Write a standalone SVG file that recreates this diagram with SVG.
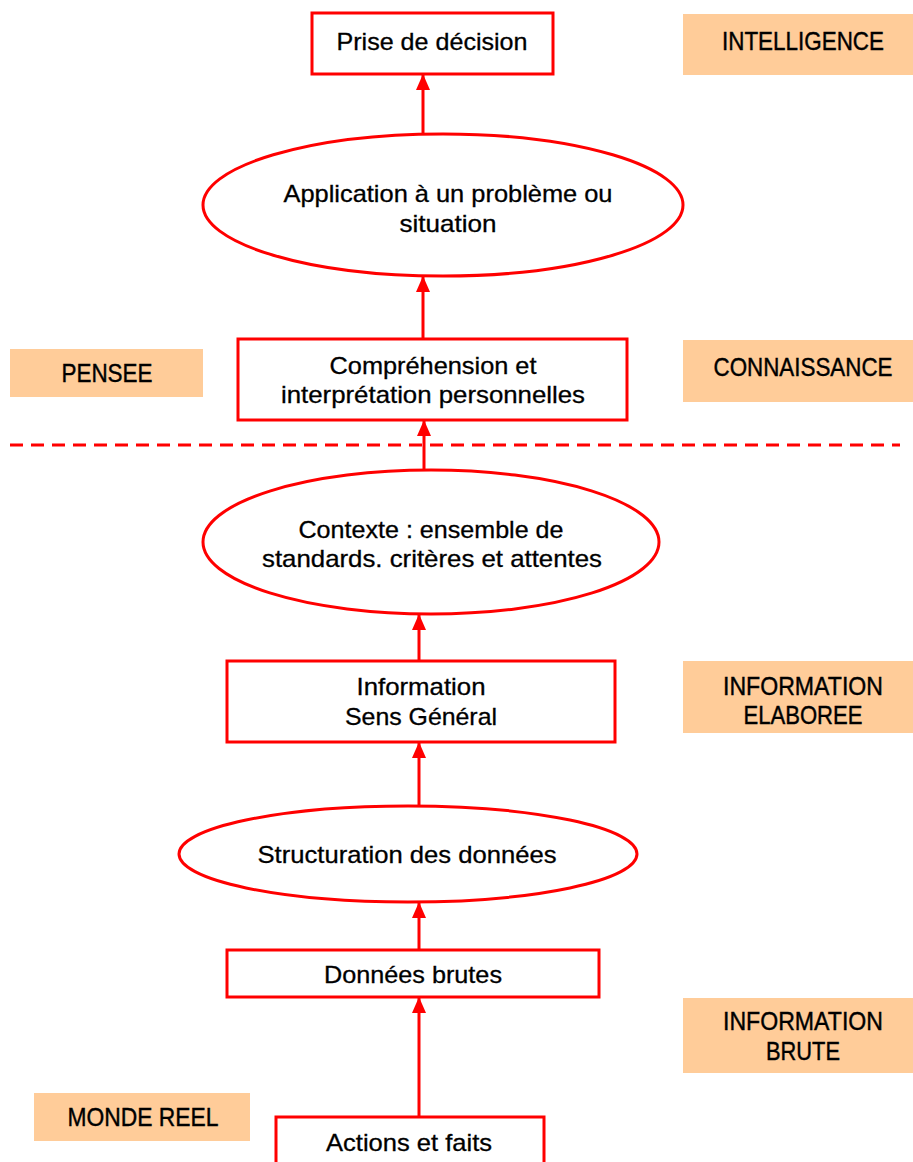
<svg xmlns="http://www.w3.org/2000/svg" width="913" height="1162" viewBox="0 0 913 1162">
  <style>
    .box { fill: #ffffff; stroke: #ff0000; stroke-width: 3; }
    .tag { fill: #ffcc99; stroke: none; }
    .t { font-family: "Liberation Sans", Arial, sans-serif; font-size: 24px; fill: #000000; stroke: #000000; stroke-width: 0.3; text-anchor: middle; dominant-baseline: central; }
    .lab { font-family: "Liberation Sans", Arial, sans-serif; font-size: 25px; fill: #000000; stroke: #000000; stroke-width: 0.4; text-anchor: middle; dominant-baseline: central; }
    .edge { stroke: #ff0000; stroke-width: 3; fill: none; marker-end: url(#arrow); }
    .sep { stroke: #ff0000; stroke-width: 3; stroke-dasharray: 13 8; fill: none; }
  </style>
  <defs>
    <marker id="arrow" markerWidth="14" markerHeight="16" refX="7" refY="1" orient="0" markerUnits="userSpaceOnUse" viewBox="0 0 14 16">
      <path d="M0,16 L7,0 L14,16 Z" fill="#ff0000"/>
    </marker>
  </defs>
  <rect width="913" height="1162" fill="#ffffff"/>

  <!-- connectors: every arrow runs upward to the next stage -->
  <g id="connectors">
    <line class="edge" x1="423" y1="134" x2="423" y2="75"/>
    <line class="edge" x1="423" y1="339" x2="423" y2="277"/>
    <line class="edge" x1="424" y1="482" x2="424" y2="421"/>
    <line class="edge" x1="419" y1="661" x2="419" y2="615"/>
    <line class="edge" x1="419" y1="806" x2="419" y2="743"/>
    <line class="edge" x1="419" y1="950" x2="419" y2="903"/>
    <line class="edge" x1="419" y1="1117" x2="419" y2="998"/>
    <line class="sep" x1="10" y1="445" x2="900" y2="445"/>
  </g>

  <!-- stages -->
  <g id="prise-decision">
    <rect class="box" x="312" y="13" width="241" height="61"/>
    <text class="t" x="432" y="41" textLength="191" lengthAdjust="spacingAndGlyphs">Prise de décision</text>
  </g>
  <g id="application">
    <ellipse class="box" cx="443" cy="205" rx="240" ry="71"/>
    <text class="t" x="448" y="193" textLength="329" lengthAdjust="spacingAndGlyphs">Application à un problème ou</text>
    <text class="t" x="448" y="223" textLength="97" lengthAdjust="spacingAndGlyphs">situation</text>
  </g>
  <g id="comprehension">
    <rect class="box" x="238" y="339" width="389" height="81"/>
    <text class="t" x="433" y="365" textLength="207" lengthAdjust="spacingAndGlyphs">Compréhension et</text>
    <text class="t" x="433" y="394" textLength="304" lengthAdjust="spacingAndGlyphs">interprétation personnelles</text>
  </g>
  <g id="contexte">
    <ellipse class="box" cx="431" cy="542" rx="228" ry="72"/>
    <text class="t" x="431" y="529" textLength="265" lengthAdjust="spacingAndGlyphs">Contexte : ensemble de</text>
    <text class="t" x="432" y="558" textLength="340" lengthAdjust="spacingAndGlyphs">standards. critères et attentes</text>
  </g>
  <g id="information">
    <rect class="box" x="227" y="661" width="388" height="81"/>
    <text class="t" x="421" y="686" textLength="129" lengthAdjust="spacingAndGlyphs">Information</text>
    <text class="t" x="421" y="716" textLength="152" lengthAdjust="spacingAndGlyphs">Sens Général</text>
  </g>
  <g id="structuration">
    <ellipse class="box" cx="408" cy="854" rx="229" ry="48"/>
    <text class="t" x="407" y="854" textLength="299" lengthAdjust="spacingAndGlyphs">Structuration des données</text>
  </g>
  <g id="donnees-brutes">
    <rect class="box" x="227" y="950" width="372" height="47"/>
    <text class="t" x="413" y="974" textLength="178" lengthAdjust="spacingAndGlyphs">Données brutes</text>
  </g>
  <g id="actions-faits">
    <rect class="box" x="276" y="1117" width="268" height="60"/>
    <text class="t" x="409" y="1142" textLength="166" lengthAdjust="spacingAndGlyphs">Actions et faits</text>
  </g>

  <!-- level labels -->
  <g id="tag-intelligence">
    <rect class="tag" x="683" y="14" width="230" height="61"/>
    <text class="lab" x="803" y="41" textLength="162" lengthAdjust="spacingAndGlyphs">INTELLIGENCE</text>
  </g>
  <g id="tag-pensee">
    <rect class="tag" x="10" y="349" width="193" height="48"/>
    <text class="lab" x="107" y="373" textLength="91" lengthAdjust="spacingAndGlyphs">PENSEE</text>
  </g>
  <g id="tag-connaissance">
    <rect class="tag" x="683" y="340" width="230" height="62"/>
    <text class="lab" x="803" y="367" textLength="179" lengthAdjust="spacingAndGlyphs">CONNAISSANCE</text>
  </g>
  <g id="tag-info-elaboree">
    <rect class="tag" x="683" y="661" width="230" height="72"/>
    <text class="lab" x="803" y="686" textLength="160" lengthAdjust="spacingAndGlyphs">INFORMATION</text>
    <text class="lab" x="803" y="715" textLength="119" lengthAdjust="spacingAndGlyphs">ELABOREE</text>
  </g>
  <g id="tag-info-brute">
    <rect class="tag" x="683" y="998" width="230" height="75"/>
    <text class="lab" x="803" y="1021" textLength="160" lengthAdjust="spacingAndGlyphs">INFORMATION</text>
    <text class="lab" x="803" y="1051" textLength="74" lengthAdjust="spacingAndGlyphs">BRUTE</text>
  </g>
  <g id="tag-monde-reel">
    <rect class="tag" x="34" y="1093" width="216" height="48"/>
    <text class="lab" x="143" y="1117" textLength="151" lengthAdjust="spacingAndGlyphs">MONDE REEL</text>
  </g>
</svg>
